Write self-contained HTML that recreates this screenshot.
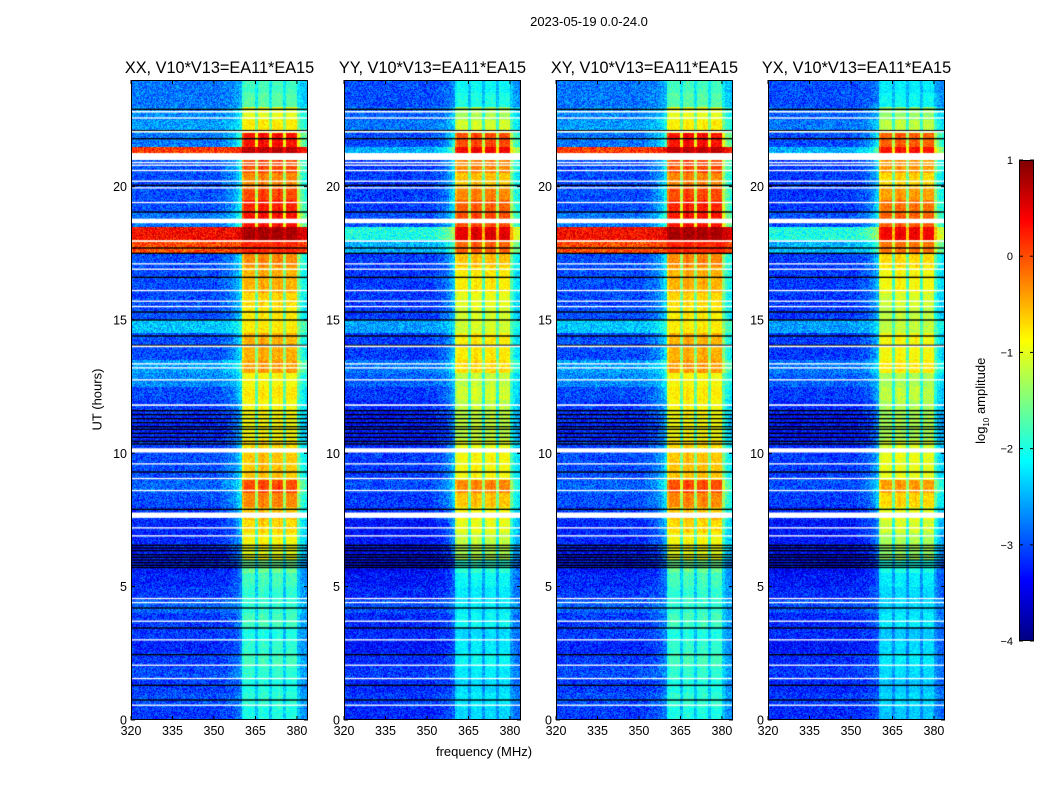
<!DOCTYPE html>
<html><head><meta charset="utf-8">
<style>
body{margin:0;background:#fff;}
#wrap{position:relative;width:1050px;height:800px;background:#fff;font-family:"Liberation Sans","DejaVu Sans",sans-serif;color:#000;}
.t{position:absolute;white-space:nowrap;}
canvas{position:absolute;}
</style></head>
<body>
<div id="wrap">
<div class="t" style="left:489px;top:14px;width:200px;text-align:center;font-size:13px;">2023-05-19 0.0-24.0</div>
<div class="t" style="left:384px;top:744px;width:200px;text-align:center;font-size:13px;">frequency (MHz)</div>
<div class="t" style="left:47px;top:392px;width:100px;text-align:center;font-size:13px;transform:rotate(-90deg);">UT (hours)</div>
<div class="t" style="left:922px;top:392px;width:120px;text-align:center;font-size:13px;transform:rotate(-90deg);">log<sub style="font-size:8px">10</sub> amplitude</div>
<svg id="svg" width="1050" height="800" style="position:absolute;left:0;top:0"></svg>
</div>
<script>
// ---- data ----
const panelTitles = ["XX, V10*V13=EA11*EA15","YY, V10*V13=EA11*EA15","XY, V10*V13=EA11*EA15","YX, V10*V13=EA11*EA15"];
const xTicks = [320,335,350,365,380];
const yTicks = [0,5,10,15,20];
const cbTicks = [1,0,-1,-2,-3,-4];
// in-band log amplitude per half-hour (0..24h)
const bandLevel = [-2.0,-1.9,-2.0,-1.9,-1.8,-1.9,-2.0,-1.8,-1.9,-1.9,-1.8,-1.6,
 -1.0,-0.9,-0.7,-0.6,-0.3,0.0,-0.6,-0.6,-0.7,-0.9,-0.9,-0.9,
 -0.8,-0.9,-0.4,-0.5,-0.5,-0.8,-0.8,-0.7,-0.5,-0.5,-0.3,0.2,
 0.8,0.3,0.2,0.0,-0.3,0.0,0.7,0.3,-0.8,-1.0,-1.7,-1.8];
// off-band background per half-hour, co-pol (XX/XY) and YY/YX
const bgCo = [-3.1,-3.0,-3.1,-3.0,-3.1,-3.2,-3.1,-3.1,-2.9,-3.1,-3.2,-3.3,
 -3.3,-3.2,-3.2,-3.1,-3.0,-2.9,-3.0,-3.0,-3.1,-3.2,-3.2,-3.1,
 -3.0,-2.7,-2.6,-3.0,-3.0,-2.4,-3.0,-3.0,-3.0,-3.0,-3.0,0.0,
 0.35,-2.8,-3.0,-3.0,-3.0,-3.0,0.1,-2.8,-2.6,-2.7,-2.8,-2.8];
const bgCross = [-3.2,-3.1,-3.2,-3.1,-3.2,-3.3,-3.2,-3.2,-3.0,-3.2,-3.3,-3.4,
 -3.4,-3.3,-3.3,-3.2,-3.1,-3.0,-3.1,-3.1,-3.2,-3.3,-3.3,-3.2,
 -3.1,-2.9,-2.8,-3.1,-3.1,-2.6,-3.1,-3.1,-3.1,-3.1,-3.1,-2.5,
 -2.0,-3.0,-3.1,-3.1,-3.1,-3.1,-2.5,-3.0,-2.8,-2.9,-3.0,-3.0];
const panelBandOffset = [0,-0.3,0,-0.4];
const panelBgCo = [true,false,true,false];
// channel weight of band signal, 1 MHz channels 320..383
const chanWeight = [0,0,0,0,0,0,0,0,0,0, 0,0,0,0,0,0,0,0,0,0, 0,0,0,0,0,0,0,0,0,0,
 0,0,0.02,0.04,0.06,0.08,0.1,0.14,0.2,0.3,
 0.9,1,1,1,1, 0.6,1,1.05,1,1, 0.6,1,1,1.05,1, 0.6,1,1,1,1, 0.6,0.45,0.4,0.35];
// flagged (white) gaps: start hour, duration hours
const gapStart = [22.78,22.55,22.03,21.0,20.88,20.78,20.58,20.18,19.93,19.38,18.63,17.93,17.08,16.88,16.08,15.68,15.48,13.98,13.33,13.18,12.73,11.78,10.03,9.58,9.03,8.58,7.58,7.18,6.88,4.53,4.38,3.68,2.98,2.03,1.53,0.53];
const gapDur   = [0.06,0.05,0.06,0.26,0.05,0.05,0.05,0.05,0.05,0.05,0.17,0.06,0.05,0.05,0.05,0.05,0.05,0.06,0.05,0.05,0.05,0.06,0.16,0.05,0.05,0.05,0.2,0.05,0.05,0.05,0.05,0.05,0.05,0.05,0.05,0.05];
// dropout (black) lines: hour
const blackLines = [22.9,22.1,21.8,20.05,19.05,17.7,17.5,16.6,15.3,15.0,14.4,14.05,
 11.6,11.45,11.3,11.15,11.0,10.9,10.75,10.6,10.45,10.35,9.3,7.9,
 6.55,6.45,6.35,6.2,6.1,6.0,5.9,5.8,5.72,4.2,3.45,2.45,1.3,0.75];

// ---- layout ----
const panelX0 = [131,344,556,768], panelW = 177, plotTop = 80, plotH = 640;
const fMin = 320, fMax = 384, hMin = 0, hMax = 24, vMin = -4, vMax = 1;
const xScale = (p,f)=>panelX0[p] + (f-fMin)/(fMax-fMin)*panelW;
const yScale = h => plotTop + plotH - (h-hMin)/(hMax-hMin)*plotH;
function jet(v){
  let t = Math.max(0,Math.min(1,(v-vMin)/(vMax-vMin)));
  const c = x=>Math.round(255*Math.max(0,Math.min(1,1.5-Math.abs(x))));
  return [c(4*t-3),c(4*t-2),c(4*t-1)];
}
function hash(a,b,c){let h=(a*73856093)^(b*19349663)^(c*83492791);h=(h^(h>>>13))*1274126177;h^=h>>>16;return ((h>>>0)%1000)/1000;}

const wrap = document.getElementById('wrap');
const svg = document.getElementById('svg');
const NS = "http://www.w3.org/2000/svg";
function mk(tag,attrs,parent){const e=document.createElementNS(NS,tag);for(const k in attrs)e.setAttribute(k,attrs[k]);(parent||svg).appendChild(e);return e;}

for(let p=0;p<4;p++){
  const cv = document.createElement('canvas');
  
  
  cv.width = panelW; cv.height = plotH;
  cv.style.left = panelX0[p]+'px'; cv.style.top = plotTop+'px';
  const ctx = cv.getContext('2d');
  const img = ctx.createImageData(panelW, plotH);
  const bgArr = panelBgCo[p] ? bgCo : bgCross;
  for(let y=0;y<plotH;y++){
    const h = hMax - (y+0.5)/plotH*(hMax-hMin);
    const hi = Math.min(bandLevel.length-1, Math.floor(h*2));
    const bl = bandLevel[hi] + panelBandOffset[p];
    const bg = bgArr[hi];
    for(let x=0;x<panelW;x++){
      const f = fMin + (x+0.5)/panelW*(fMax-fMin);
      const ci = Math.min(chanWeight.length-1, Math.floor(f-fMin));
      const w = chanWeight[ci];
      let v = bg + w*(Math.max(bl,bg)-bg);
      v += (hash(x,y,p)-0.5)*0.8*(1-0.5*w);
      const c = jet(v), k=(y*panelW+x)*4;
      img.data[k]=c[0]; img.data[k+1]=c[1]; img.data[k+2]=c[2]; img.data[k+3]=255;
    }
  }
  ctx.putImageData(img,0,0);
  for(let i=0;i<blackLines.length;i++){
    ctx.fillStyle='#000';
    ctx.fillRect(0, yScale(blackLines[i])-plotTop-0.7, panelW, 1.4);
  }
  for(let i=0;i<gapStart.length;i++){
    ctx.fillStyle='#fff';
    const y1 = yScale(gapStart[i]+gapDur[i])-plotTop, y2 = yScale(gapStart[i])-plotTop;
    ctx.fillRect(0, y1, panelW, Math.max(1.2,y2-y1));
  }
  wrap.insertBefore(cv, svg);

  const g = mk('g',{});
  
  
  const fr = mk('rect',{x:panelX0[p]+0.5,y:plotTop+0.5,width:panelW-1,height:plotH-1,fill:'none',stroke:'#000','stroke-width':1},g);
  
  
  const tt = mk('text',{x:panelX0[p]+panelW/2,y:73,'text-anchor':'middle','font-size':16.3,'font-family':'Liberation Sans, sans-serif'},g);
  tt.textContent = panelTitles[p];
  
  
  for(const f of xTicks){
    const x = xScale(p,f);
    mk('line',{x1:x,x2:x,y1:plotTop+plotH,y2:plotTop+plotH-4,stroke:'#000'},g);
    mk('line',{x1:x,x2:x,y1:plotTop,y2:plotTop+4,stroke:'#000'},g);
    const t = mk('text',{x:x,y:plotTop+plotH+15,'text-anchor':'middle','font-size':12.5,'font-family':'Liberation Sans, sans-serif'},g);
    t.textContent = f;
    
    
  }
  for(const h of yTicks){
    const y = yScale(h);
    mk('line',{x1:panelX0[p],x2:panelX0[p]+4,y1:y,y2:y,stroke:'#000'},g);
    mk('line',{x1:panelX0[p]+panelW,x2:panelX0[p]+panelW-4,y1:y,y2:y,stroke:'#000'},g);
    const t = mk('text',{x:panelX0[p]-4,y:y+4.5,'text-anchor':'end','font-size':12.5,'font-family':'Liberation Sans, sans-serif'},g);
    t.textContent = h;
    
    
  }
}

// colorbar
const cbX=1019, cbW=15, cbTop=160, cbH=481;
const cbScale = v => cbTop + (vMax-v)/(vMax-vMin)*cbH;
const cbc = document.createElement('canvas');


cbc.width=cbW; cbc.height=cbH; cbc.style.left=cbX+'px'; cbc.style.top=cbTop+'px';
const cctx = cbc.getContext('2d');
for(let y=0;y<cbH;y++){const c=jet(vMax-(y+0.5)/cbH*(vMax-vMin));cctx.fillStyle=`rgb(${c[0]},${c[1]},${c[2]})`;cctx.fillRect(0,y,cbW,1);}
wrap.insertBefore(cbc, svg);
const cbg = mk('g',{});


mk('rect',{x:cbX+0.5,y:cbTop+0.5,width:cbW-1,height:cbH-1,fill:'none',stroke:'#000'},cbg);
for(const v of cbTicks){
  const y = cbScale(v);
  mk('line',{x1:cbX,x2:cbX+4,y1:y,y2:y,stroke:'#000'},cbg);
  mk('line',{x1:cbX+cbW,x2:cbX+cbW-4,y1:y,y2:y,stroke:'#000'},cbg);
  const t = mk('text',{x:1013,y:y+4,'text-anchor':'end','font-size':11,'font-family':'Liberation Sans, sans-serif'},cbg);
  t.textContent = v<0 ? '\u2212'+(-v) : v;
  
  
}
</script>
</body></html>
